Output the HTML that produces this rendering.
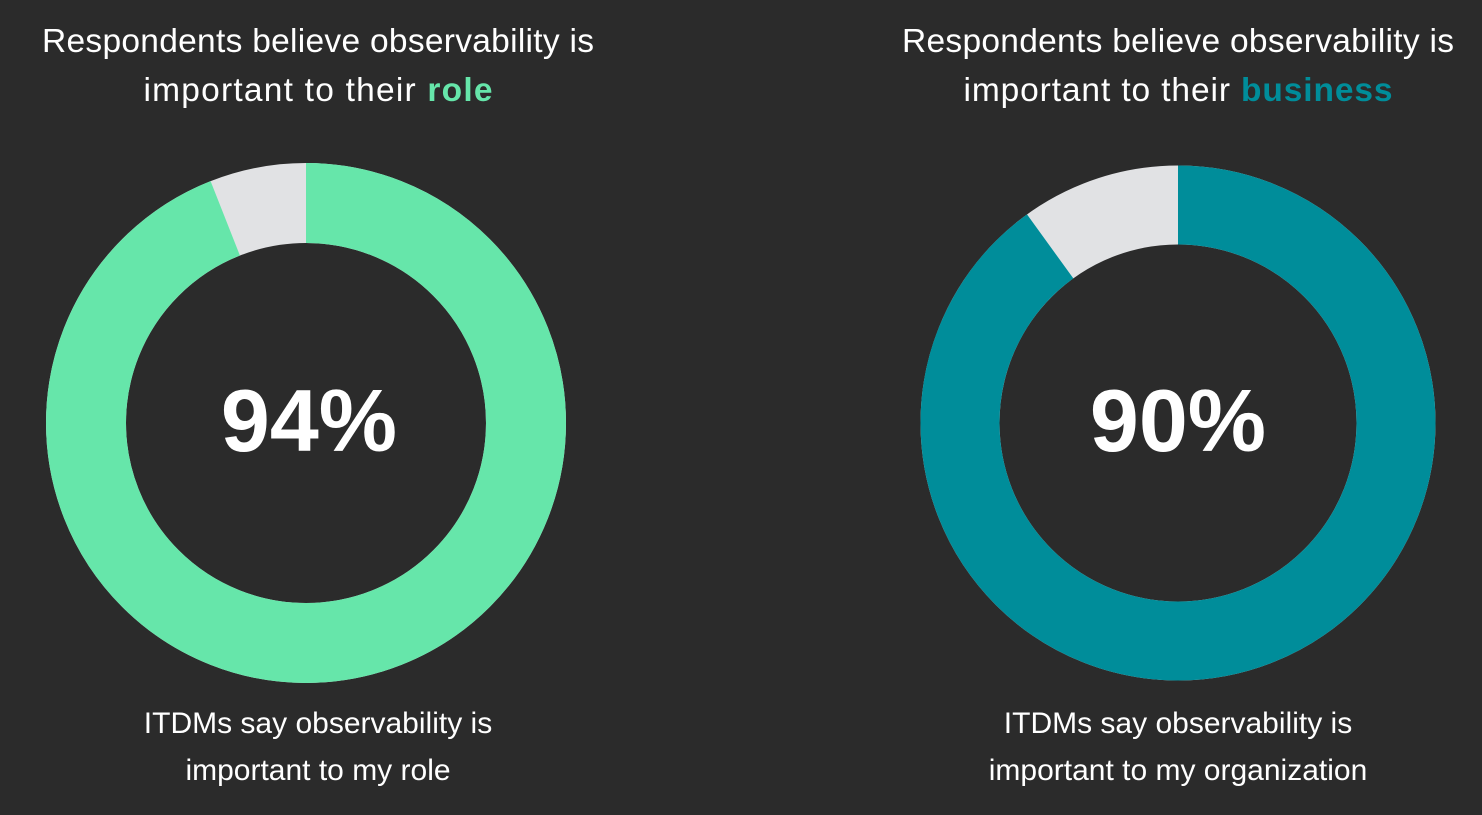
<!DOCTYPE html>
<html><head><meta charset="utf-8"><style>
html,body{margin:0;padding:0;background:#2b2b2b;}
svg{display:block}
text{font-family:"Liberation Sans","DejaVu Sans",sans-serif;fill:#fff}
</style></head><body>
<svg width="1482" height="815" viewBox="0 0 1482 815">
<rect width="1482" height="815" fill="#2b2b2b"/>
<g transform="translate(306,423) rotate(-90)">
<circle r="220" fill="none" stroke="#e1e2e4" stroke-width="80"/>
<circle r="220" fill="none" stroke="#66e6aa" stroke-width="80" stroke-dasharray="1299.3 1382.3"/>
</g>
<g transform="translate(1178,423) rotate(-90)">
<circle r="218" fill="none" stroke="#e1e2e4" stroke-width="79"/>
<circle r="218" fill="none" stroke="#008d9a" stroke-width="79" stroke-dasharray="1232.8 1369.7"/>
</g>
<text x="318" y="52" font-size="33.5" text-anchor="middle" textLength="552">Respondents believe observability is</text>
<text x="318" y="101" font-size="33.5" text-anchor="middle" textLength="349">important to their <tspan font-weight="bold" style="fill:#66e6aa">role</tspan></text>
<text x="1178" y="52" font-size="33.5" text-anchor="middle" textLength="552">Respondents believe observability is</text>
<text x="1178" y="101" font-size="33.5" text-anchor="middle" textLength="429">important to their <tspan font-weight="bold" style="fill:#008d9a">business</tspan></text>
<text x="309" y="451" font-size="88" font-weight="bold" text-anchor="middle">94%</text>
<text x="1178" y="451" font-size="88" font-weight="bold" text-anchor="middle">90%</text>
<text x="318" y="733" font-size="30" text-anchor="middle">ITDMs say observability is</text>
<text x="318" y="780" font-size="30" text-anchor="middle">important to my role</text>
<text x="1178" y="733" font-size="30" text-anchor="middle">ITDMs say observability is</text>
<text x="1178" y="780" font-size="30" text-anchor="middle">important to my organization</text>
</svg>
</body></html>
